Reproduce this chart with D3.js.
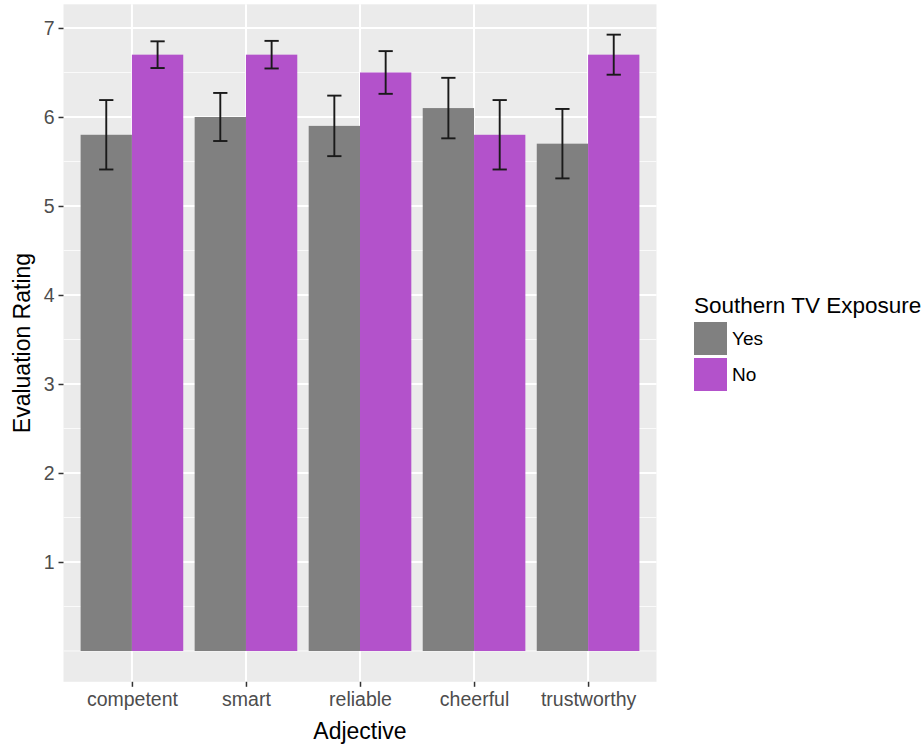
<!DOCTYPE html>
<html>
<head>
<meta charset="utf-8">
<script src="https://cdn.jsdelivr.net/npm/d3@7"></script>
<style>
  html, body { margin: 0; padding: 0; background: #ffffff; }
  svg { display: block; font-family: "Liberation Sans", Arial, sans-serif; }
</style>
</head>
<body>
<svg id="chart" width="924" height="744"></svg>
<script>
// Mean evaluation ratings by adjective, split by Southern TV exposure
const categories = ["competent", "smart", "reliable", "cheerful", "trustworthy"];
const groups = ["Yes", "No"];
const yesMeans = [5.8, 6.0, 5.9, 6.1, 5.7];
const noMeans  = [6.7, 6.7, 6.5, 5.8, 6.7];
const yesErr   = [0.39, 0.27, 0.34, 0.34, 0.39];
const noErr    = [0.15, 0.155, 0.24, 0.39, 0.225];
const yTicks   = [1, 2, 3, 4, 5, 6, 7];
const yMinor   = [0, 0.5, 1.5, 2.5, 3.5, 4.5, 5.5, 6.5];
const groupColors = ["#808080", "#b352cb"];

const svg = d3.select("#chart");
const panel = { left: 63.5, right: 656.5, top: 4.3, bottom: 681.8 };

const x = d3.scalePoint()
  .domain(categories)
  .range([panel.left, panel.right])
  .padding(0.6);
const step = x.step();
const xInner = d3.scaleBand()
  .domain(groups)
  .range([-0.45 * step, 0.45 * step]);
const y = d3.scaleLinear()
  .domain([-0.346, 7.266])
  .range([panel.bottom, panel.top]);
const color = d3.scaleOrdinal().domain(groups).range(groupColors);

const rows = [];
categories.forEach((c, i) => {
  rows.push({ cat: c, grp: "Yes", mean: yesMeans[i], err: yesErr[i] });
  rows.push({ cat: c, grp: "No", mean: noMeans[i], err: noErr[i] });
});

// panel background
svg.append("rect")
  .attr("x", panel.left).attr("y", panel.top)
  .attr("width", panel.right - panel.left)
  .attr("height", panel.bottom - panel.top)
  .attr("fill", "#ebebeb");

// grid lines
const grid = svg.append("g");
grid.selectAll("line.minor").data(yMinor).join("line")
  .attr("class", "minor")
  .attr("x1", panel.left).attr("x2", panel.right)
  .attr("y1", d => y(d)).attr("y2", d => y(d))
  .attr("stroke", "#fafafa").attr("stroke-width", 1);
grid.selectAll("line.majorY").data(yTicks).join("line")
  .attr("class", "majorY")
  .attr("x1", panel.left).attr("x2", panel.right)
  .attr("y1", d => y(d)).attr("y2", d => y(d))
  .attr("stroke", "#ffffff").attr("stroke-width", 2);
grid.selectAll("line.majorX").data(categories).join("line")
  .attr("class", "majorX")
  .attr("x1", d => x(d)).attr("x2", d => x(d))
  .attr("y1", panel.top).attr("y2", panel.bottom)
  .attr("stroke", "#ffffff").attr("stroke-width", 2);

// bars
svg.append("g").selectAll("rect").data(rows).join("rect")
  .attr("x", d => x(d.cat) + xInner(d.grp))
  .attr("width", xInner.bandwidth())
  .attr("y", d => y(d.mean))
  .attr("height", d => y(0) - y(d.mean))
  .attr("fill", d => color(d.grp));

// error bars
const capHalf = 0.0625 * step;
const eb = svg.append("g")
  .attr("stroke", "#1a1a1a").attr("stroke-width", 1.9).attr("fill", "none");
rows.forEach(d => {
  const cx = x(d.cat) + xInner(d.grp) + xInner.bandwidth() / 2;
  const hi = y(d.mean + d.err), lo = y(d.mean - d.err);
  eb.append("line").attr("x1", cx).attr("x2", cx).attr("y1", hi).attr("y2", lo);
  eb.append("line").attr("x1", cx - capHalf).attr("x2", cx + capHalf).attr("y1", hi).attr("y2", hi);
  eb.append("line").attr("x1", cx - capHalf).attr("x2", cx + capHalf).attr("y1", lo).attr("y2", lo);
});

// y axis
const yAxis = svg.append("g")
  .attr("transform", `translate(${panel.left},0)`)
  .call(d3.axisLeft(y).tickValues(yTicks).tickFormat(d3.format("d")).tickSize(5).tickPadding(4));
yAxis.select(".domain").remove();
yAxis.selectAll(".tick line").attr("stroke", "#333333").attr("stroke-width", 1.5);
yAxis.selectAll(".tick text")
  .attr("fill", "#4d4d4d").attr("font-size", 19.5)
  .attr("font-family", "Liberation Sans, Arial, sans-serif");

// x axis
const xAxis = svg.append("g")
  .attr("transform", `translate(0,${panel.bottom})`)
  .call(d3.axisBottom(x).tickSize(5).tickPadding(5));
xAxis.select(".domain").remove();
xAxis.selectAll(".tick line").attr("stroke", "#333333").attr("stroke-width", 1.5);
xAxis.selectAll(".tick text")
  .attr("fill", "#4d4d4d").attr("font-size", 19.5)
  .attr("font-family", "Liberation Sans, Arial, sans-serif");

// axis titles
svg.append("text")
  .attr("x", (panel.left + panel.right) / 2).attr("y", 739)
  .attr("text-anchor", "middle").attr("font-size", 23).attr("fill", "#000")
  .text("Adjective");
svg.append("text")
  .attr("transform", `translate(30,${(panel.top + panel.bottom) / 2}) rotate(-90)`)
  .attr("text-anchor", "middle").attr("font-size", 23).attr("fill", "#000")
  .text("Evaluation Rating");

// legend
const legend = svg.append("g").attr("transform", "translate(694,0)");
legend.append("text")
  .attr("x", 0).attr("y", 313)
  .attr("font-size", 22.5).attr("fill", "#000")
  .text("Southern TV Exposure");
const keySize = 33;
groups.forEach((g, i) => {
  const top = 322 + i * (keySize + 3);
  legend.append("rect")
    .attr("x", 0).attr("y", top)
    .attr("width", keySize).attr("height", keySize)
    .attr("fill", color(g));
  legend.append("text")
    .attr("x", keySize + 5).attr("y", top + keySize / 2)
    .attr("dy", "0.35em")
    .attr("font-size", 19).attr("fill", "#000")
    .text(g);
});
</script>
</body>
</html>
